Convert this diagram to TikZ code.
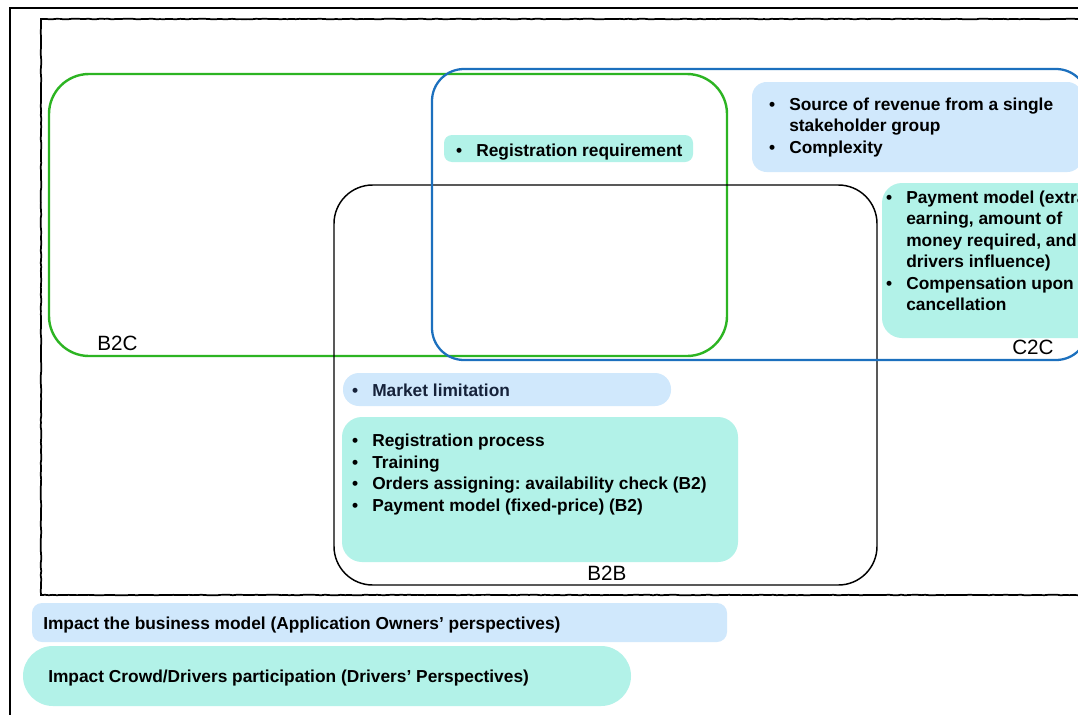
\documentclass[tikz,border=0pt]{standalone}
\usepackage{fontspec}
\setmainfont{Liberation Sans}
\usetikzlibrary{decorations.pathmorphing}
\frenchspacing

\definecolor{mint}{RGB}{178,242,232}
\definecolor{paleblue}{RGB}{208,232,252}
\definecolor{setgreen}{RGB}{44,180,34}
\definecolor{setblue}{RGB}{28,112,190}
\definecolor{navytext}{RGB}{22,34,58}

% bullet hung to the left of the item text
\newcommand\bl{\leavevmode\llap{•\hspace{10.5pt}}}

\begin{document}
\begin{tikzpicture}[x=0.75pt,y=-0.75pt,
  % item lists are placed by the baseline of their last line
  item/.style={anchor=base west, inner sep=0pt, align=left,
    font=\bfseries\fontsize{13}{16.1}\selectfont},
  setlabel/.style={anchor=base west, inner sep=0pt,
    font=\fontsize{15.5}{18}\selectfont},
  legendtext/.style={anchor=base west, inner sep=0pt,
    font=\bfseries\fontsize{13}{16}\selectfont},
]
\useasboundingbox (0,0) rectangle (1078,714);
\fill[white] (0,0) rectangle (1078,714);
\clip (0,0) rectangle (1078,714);

% outer frame and the sketched inner frame
\draw[line width=1.2pt] (10,730) -- (10,8) -- (1100,8);
\draw[line width=1.3pt, decorate,
      decoration={random steps, segment length=3pt, amplitude=0.25pt}]
  (1100,19) -- (41,19) -- (41,595) -- (1100,595);

% shaded item boxes
\fill[mint, rounded corners=6pt]       (444,135) rectangle (693,162);
\fill[paleblue, rounded corners=11pt]  (752,82)  rectangle (1082,172);
\fill[mint, rounded corners=15pt]      (882,183) rectangle (1100,338);
\fill[paleblue, rounded corners=12pt]  (343,373) rectangle (671,406);
\fill[mint, rounded corners=15pt]      (342,417) rectangle (738,562);
\fill[paleblue, rounded corners=7.5pt] (32,603)  rectangle (727,642);
\fill[mint, rounded corners=22.5pt]    (23,646)  rectangle (631,706);

% the three business-model sets
\draw[setgreen, line width=1.8pt, rounded corners=30pt] (49,74) rectangle (727,356);
\draw[black, line width=1.1pt, rounded corners=29pt] (334,185) rectangle (877,585);
\draw[setblue, line width=1.7pt, rounded corners=24pt] (432,69) rectangle (1088,360);

% set labels
\node[setlabel] (b2c) at (97,350)  {B2C};
\node[setlabel] (c2c) at (1012,354) {C2C};
\node[setlabel] (b2b) at (587,580) {B2B};

% items
\node[item] (reg) at (476,156) {\bl Registration requirement};
\node[item] (revenue) at (789,153)
  {\bl Source of revenue from a single\\
   stakeholder group\\
   \bl Complexity};
\node[item] (payment) at (906,310.5)
  {\bl Payment model (extra\\
   earning, amount of\\
   money required, and\\
   drivers influence)\\
   \bl Compensation upon\\
   cancellation};
\node[item, text=navytext] (market) at (372,396) {\bl Market limitation};
\node[item] (process) at (372,511)
  {\bl Registration process\\
   \bl Training\\
   \bl Orders assigning: availability check (B2)\\
   \bl Payment model (fixed-price) (B2)};

% legend
\node[legendtext] (owners) at (43,629)
  {Impact the business model (Application Owners’ perspectives)};
\node[legendtext] (drivers) at (48,682)
  {Impact Crowd/Drivers participation (Drivers’ Perspectives)};
\end{tikzpicture}
\end{document}
